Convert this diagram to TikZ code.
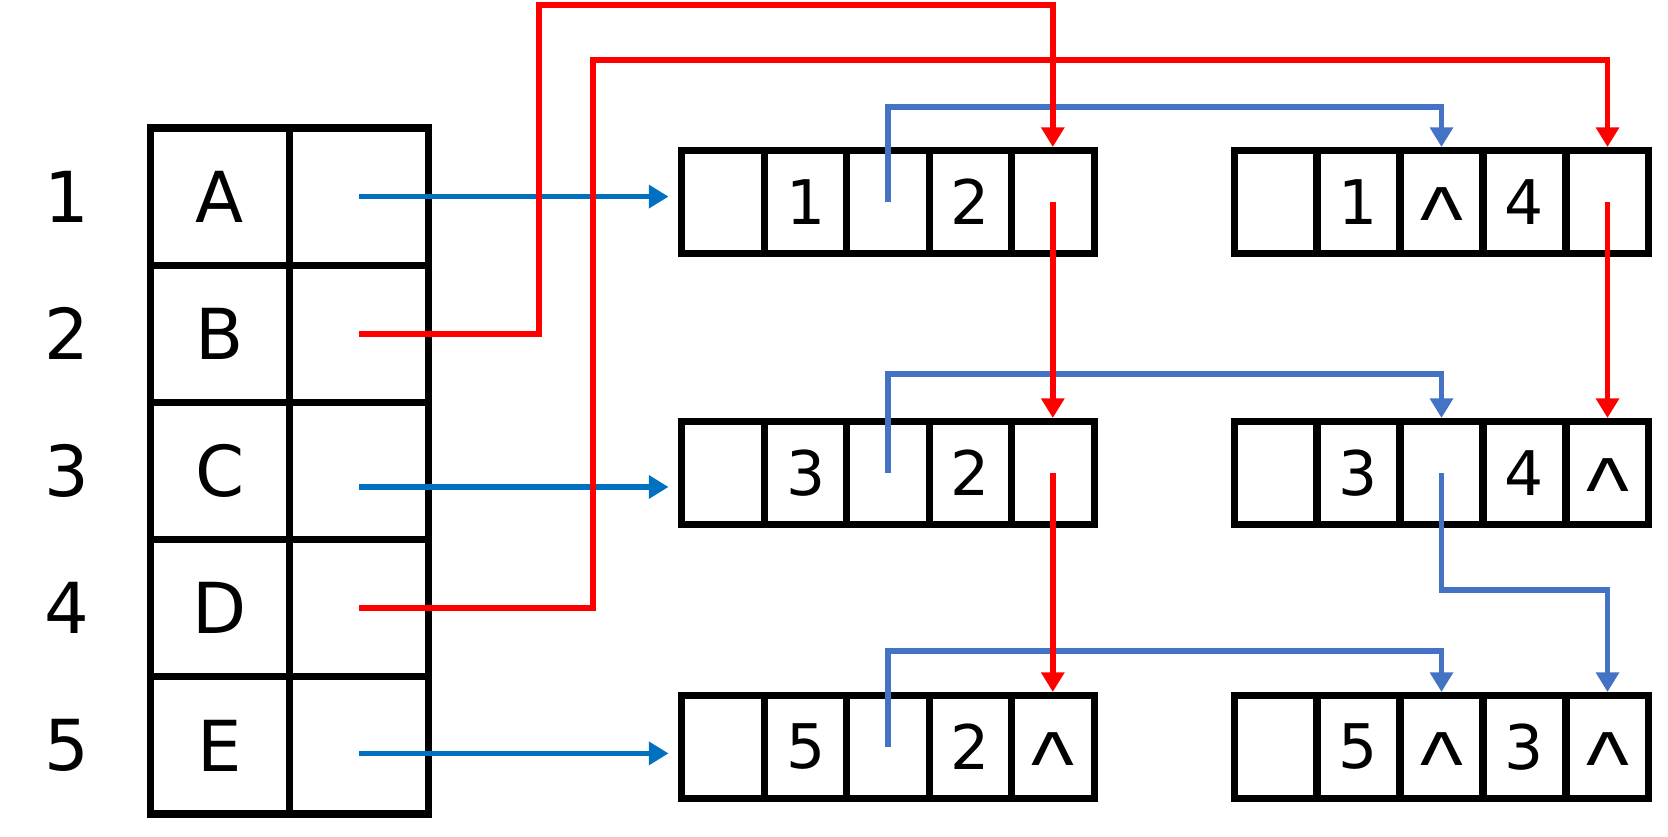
\documentclass[tikz,border=0pt]{standalone}
\usepackage{fontspec}
\setmainfont{DejaVu Sans}
\newfontfamily\caretfont{Liberation Sans}
\usepackage{tikz}
\usetikzlibrary{positioning,arrows.meta,calc}

\definecolor{ptrred}{HTML}{FF0000}
\definecolor{ptrblue}{HTML}{0070C0}
\definecolor{linkblue}{HTML}{4472C4}
\newcommand{\nilmark}{{\caretfont\fontsize{26}{26}\selectfont\raisebox{-0.53em}[0pt][0pt]{\textasciicircum}}}

\begin{document}
\begin{tikzpicture}[
    slot/.style={draw, line width=2pt, minimum width=1.39cm, minimum height=1.372cm, inner sep=0pt, font=\fontsize{20}{24}\selectfont},
    cell/.style={draw, line width=2pt, minimum width=0.826cm, minimum height=1.03cm, inner sep=0pt, font=\fontsize{17.5}{20}\selectfont},
    idx/.style={font=\fontsize{20}{24}\selectfont},
    head/.style={-{Triangle[length=5.6pt,width=6.4pt]}, line width=1.5pt, draw=ptrblue, shorten >=2.8pt},
    ilink/.style={-{Triangle[length=5.6pt,width=6.4pt]}, line width=1.5pt, draw=linkblue},
    jlink/.style={-{Triangle[length=5.6pt,width=6.4pt]}, line width=1.6pt, draw=ptrred},
]
  \useasboundingbox (0,0) rectangle (16.68,8.37);

  % vertex table
  \foreach \k/\y/\v in {1/6.404/A,2/5.032/B,3/3.66/C,4/2.288/D,5/0.916/E} {
    \node[idx]  (i\k) at (0.67,\y) {\k};
    \node[slot] (v\k) at (2.20,\y) {\v};
    \node[slot] (p\k) at (3.59,\y) {};
  }

  % edge records
  \foreach \c/\x/\t in {1/7.232/{},2/8.056/1,3/8.88/{},4/9.704/2,5/10.528/{}}
    \node[cell] (e12-\c) at (\x,6.35) {\t};
  \foreach \c/\x/\t in {1/7.232/{},2/8.056/3,3/8.88/{},4/9.704/2,5/10.528/{}}
    \node[cell] (e32-\c) at (\x,3.64) {\t};
  \foreach \c/\x/\t in {1/7.232/{},2/8.056/5,3/8.88/{},4/9.704/2,5/10.528/\nilmark}
    \node[cell] (e52-\c) at (\x,0.90) {\t};
  \foreach \c/\x/\t in {1/12.755/{},2/13.585/1,3/14.415/\nilmark,4/15.245/4,5/16.075/{}}
    \node[cell] (e14-\c) at (\x,6.35) {\t};
  \foreach \c/\x/\t in {1/12.755/{},2/13.585/3,3/14.415/{},4/15.245/4,5/16.075/\nilmark}
    \node[cell] (e34-\c) at (\x,3.64) {\t};
  \foreach \c/\x/\t in {1/12.755/{},2/13.585/5,3/14.415/\nilmark,4/15.245/3,5/16.075/\nilmark}
    \node[cell] (e53-\c) at (\x,0.90) {\t};

  \coordinate (h1) at (p1.center);
  \coordinate (h3) at ([yshift=-0.16cm]p3.center);
  \coordinate (h5) at ([yshift=-0.08cm]p5.center);
  \draw[head] (h1) -- (h1 -| e12-1.west);
  \draw[head] (h3) -- (h3 -| e32-1.west);
  \draw[head] (h5) -- (h5 -| e52-1.west);

  \draw[ilink] (e12-3.center) -- ++(0,0.95) -| (e14-3.north);
  \draw[ilink] (e32-3.center) -- ++(0,0.99) -| (e34-3.north);
  \draw[ilink] (e52-3.center) -- ++(0,0.96) -| (e53-3.north);
  \draw[ilink] (e34-3.center) -- ++(0,-1.17) -| (e53-5.north);

  % B and D go over the top
  \draw[jlink] (p2.center) -| (5.39,8.32) -| (e12-5.north);
  \draw[jlink] (p4.center) -| (5.93,7.77) -| (e14-5.north);
  \draw[jlink] (e12-5.center) -- (e32-5.north);
  \draw[jlink] (e14-5.center) -- (e34-5.north);
  \draw[jlink] (e32-5.center) -- (e52-5.north);
\end{tikzpicture}
\end{document}
